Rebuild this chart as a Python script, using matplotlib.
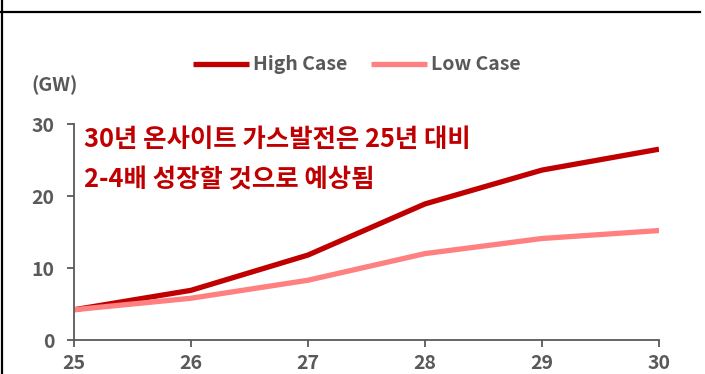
import matplotlib.pyplot as plt
from matplotlib.lines import Line2D

plt.rcParams['font.family'] = ['Noto Sans CJK KR', 'DejaVu Sans']

years = ['25', '26', '27', '28', '29', '30']
high_case = [4.2, 6.9, 11.8, 18.9, 23.6, 26.5]
low_case = [4.2, 5.8, 8.3, 12.0, 14.1, 15.2]
y_ticks = [0, 10, 20, 30]
note_lines = ['30년 온사이트 가스발전은 25년 대비', '2-4배 성장할 것으로 예상됨']

gray = '#595959'
dark_red = '#C00000'
light_red = '#FF8080'

fig = plt.figure(figsize=(7.05, 3.74), dpi=100)
ax = fig.add_axes([74 / 705, 34 / 374, 585 / 705, 216 / 374])

x = range(len(years))
ax.plot(x, high_case, color=dark_red, lw=3.8, label='High Case', solid_capstyle='butt')
ax.plot(x, low_case, color=light_red, lw=3.8, label='Low Case', solid_capstyle='butt')

ax.set_xlim(0, len(years) - 1)
ax.set_ylim(0, 30)
ax.set_xticks(list(x))
ax.set_xticklabels(years)
ax.set_yticks(y_ticks)

for side in ['top', 'right']:
    ax.spines[side].set_visible(False)
for side in ['left', 'bottom']:
    ax.spines[side].set_color(gray)
    ax.spines[side].set_linewidth(1.3)
ax.tick_params(colors=gray, labelsize=14, width=1.3, length=5, direction='out')
ax.tick_params(axis='x', pad=5)
ax.tick_params(axis='y', pad=9)
for lbl in ax.get_xticklabels() + ax.get_yticklabels():
    lbl.set_fontweight('bold')

fig.text(31 / 705, 1 - 85 / 374, '(GW)', color=gray, fontsize=14,
         fontweight='bold', va='center', ha='left')

for txt, yv in zip(note_lines, [27.8, 22.2]):
    ax.text(0.085, yv, txt, color=dark_red, fontsize=18.3, fontweight='bold',
            va='center', ha='left')

leg = fig.legend(loc='center', bbox_to_anchor=(357 / 705, 1 - 65 / 374), ncol=2,
                 frameon=False, fontsize=14, handlelength=2.9, handletextpad=0.2,
                 columnspacing=1.2)
for t in leg.get_texts():
    t.set_color(gray)
    t.set_fontweight('bold')

# frame lines at the top and left edge
fig.add_artist(Line2D([0, 700 / 705], [1 - 11.5 / 374] * 2, color='black', lw=1.6))
fig.add_artist(Line2D([1.5 / 705] * 2, [0, 1], color='black', lw=1.6))

fig.savefig('out.png', dpi=100)
